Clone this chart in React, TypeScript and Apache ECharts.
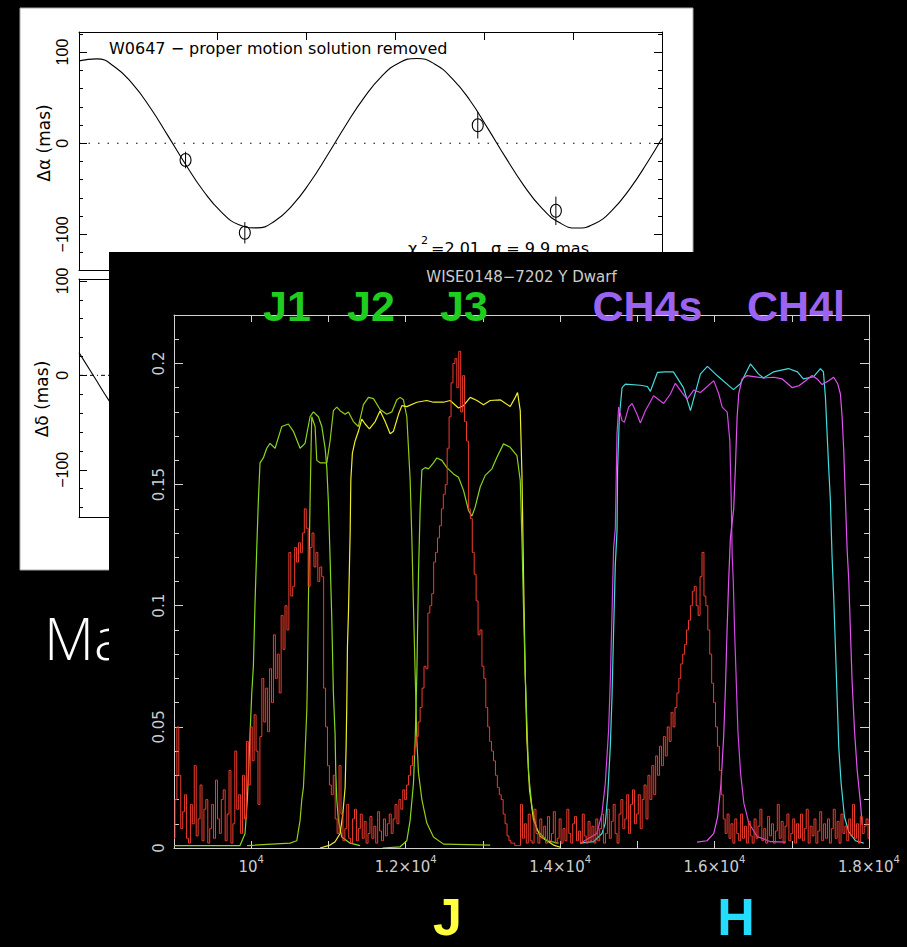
import React, { useEffect, useRef } from 'react';
import * as echarts from 'echarts';

// ---------------- spectrum (WISE0148-7202) ----------------
const spectrumStart = 9000;
const spectrumStep = 25;
const spectrumFlux = [
  0.004, 0.02, 0.05, 0.03, 0.008, 0.015, 0.022, 0.004, 0.002, 0.018, 0.01, 0.034, 0.005, 0.012, 0.026, 0.003, 0.016, 0.02, 0.002, 0.008,
  0.018, 0.004, 0.028, 0.012, 0.006, 0.02, 0.024, 0.003, 0.014, 0.032, 0.002, 0.01, 0.04, 0.016, 0.022, 0.006, 0.03, 0.012, 0.044, 0.026,
  0.05, 0.036, 0.055, 0.04, 0.018, 0.046, 0.07, 0.052, 0.066, 0.048, 0.074, 0.06, 0.088, 0.07, 0.08, 0.064, 0.096, 0.082, 0.1, 0.09,
  0.122, 0.104, 0.108, 0.124, 0.118, 0.126, 0.122, 0.13, 0.14, 0.132, 0.108, 0.124, 0.13, 0.116, 0.122, 0.11, 0.116, 0.112, 0.066, 0.05,
  0.034, 0.026, 0.022, 0.03, 0.012, 0.006, 0.034, 0.014, 0.003, 0.008, 0.018, 0.004, 0.002, 0.012, 0.016, 0.003, 0.008, 0.014, 0.004, 0.011,
  0.002, 0.006, 0.013, 0.004, 0.009, 0.002, 0.015, 0.007, 0.003, 0.012, 0.005, 0.01, 0.014, 0.006, 0.012, 0.018, 0.01, 0.02, 0.016, 0.024,
  0.02, 0.026, 0.03, 0.034, 0.038, 0.042, 0.046, 0.052, 0.058, 0.066, 0.075, 0.074, 0.097, 0.1, 0.105, 0.118, 0.122, 0.128, 0.133, 0.14,
  0.146, 0.15, 0.165, 0.178, 0.192, 0.2, 0.202, 0.19, 0.205, 0.18, 0.195, 0.176, 0.168, 0.14, 0.136, 0.122, 0.113, 0.102, 0.088, 0.09,
  0.075, 0.07, 0.058, 0.05, 0.044, 0.04, 0.036, 0.03, 0.025, 0.022, 0.02, 0.014, 0.01, 0.005, 0.003, 0.002, 0.002, 0.001, 0.001, 0.001,
  0.018, 0.004, 0.01, 0.002, 0.014, 0.003, 0.002, 0.016, 0.006, 0.002, 0.012, 0.004, 0.009, 0.002, 0.013, 0.003, 0.006, 0.015, 0.002, 0.004,
  0.012, 0.002, 0.008, 0.003, 0.016, 0.006, 0.002, 0.01, 0.013, 0.003, 0.007, 0.002, 0.014, 0.005, 0.002, 0.011, 0.003, 0.009, 0.002, 0.012,
  0.003, 0.008, 0.014, 0.002, 0.006, 0.016, 0.004, 0.011, 0.018, 0.006, 0.002, 0.014, 0.02, 0.008, 0.012, 0.022, 0.006, 0.018, 0.024, 0.01,
  0.014, 0.022, 0.008, 0.02, 0.026, 0.012, 0.03, 0.02, 0.034, 0.022, 0.038, 0.03, 0.042, 0.034, 0.046, 0.038, 0.05, 0.044, 0.056, 0.05,
  0.058, 0.064, 0.07, 0.076, 0.08, 0.084, 0.09, 0.094, 0.1, 0.106, 0.108, 0.1, 0.096, 0.112, 0.122, 0.104, 0.1, 0.09, 0.08, 0.068,
  0.06, 0.05, 0.042, 0.032, 0.022, 0.012, 0.006, 0.014, 0.004, 0.01, 0.002, 0.012, 0.006, 0.003, 0.014, 0.004, 0.009, 0.002, 0.011, 0.005,
  0.002, 0.012, 0.004, 0.009, 0.016, 0.003, 0.008, 0.002, 0.013, 0.005, 0.01, 0.002, 0.007, 0.018, 0.004, 0.011, 0.002, 0.009, 0.014, 0.003,
  0.006, 0.012, 0.002, 0.01, 0.004, 0.014, 0.003, 0.008, 0.016, 0.002, 0.009, 0.005, 0.012, 0.002, 0.007, 0.015, 0.003, 0.01, 0.004, 0.012,
  0.002, 0.008, 0.016, 0.004, 0.011, 0.002, 0.014, 0.006, 0.009, 0.003, 0.012, 0.005, 0.018, 0.004, 0.01, 0.002, 0.013, 0.006, 0.009, 0.012,
  0.004,
];

const filterJ1 = [
  [9000, 0.001], [9855, 0.001], [9920, 0.006], [9950, 0.02], [9985, 0.047], [10007, 0.064],
  [10028, 0.075], [10050, 0.102], [10072, 0.124], [10092, 0.143], [10114, 0.159], [10157, 0.161],
  [10201, 0.165], [10244, 0.167], [10309, 0.165], [10396, 0.174], [10481, 0.175], [10546, 0.172],
  [10633, 0.165], [10697, 0.167], [10762, 0.178], [10805, 0.18], [10870, 0.178], [10914, 0.174],
  [10957, 0.165], [10979, 0.157], [10999, 0.143], [11021, 0.12], [11043, 0.095], [11064, 0.064],
  [11086, 0.047], [11095, 0.031], [11108, 0.02], [11129, 0.0115], [11173, 0.0045], [11281, 0.002],
  [11410, 0.001],
];
const filterJ2 = [
  [9946, 0.001], [10503, 0.002], [10590, 0.003], [10633, 0.0115], [10655, 0.02], [10676, 0.025],
  [10697, 0.039], [10720, 0.057], [10727, 0.069], [10740, 0.101], [10762, 0.143], [10775, 0.165],
  [10784, 0.178], [10827, 0.174], [10849, 0.16], [10892, 0.159], [10979, 0.159], [11021, 0.168],
  [11064, 0.1805], [11108, 0.182], [11151, 0.1805], [11216, 0.179], [11259, 0.18], [11323, 0.176],
  [11388, 0.174], [11453, 0.183], [11518, 0.186], [11583, 0.1855], [11669, 0.181], [11756, 0.179],
  [11821, 0.18], [11886, 0.185], [11929, 0.186], [11971, 0.185], [12015, 0.178], [12058, 0.152],
  [12080, 0.128], [12101, 0.1], [12123, 0.072], [12145, 0.0445], [12166, 0.031], [12210, 0.02],
  [12274, 0.0103], [12360, 0.0045], [12490, 0.0016], [13095, 0.0012],
];
const filterJ = [
  [10892, 0], [11021, 0.0012], [11086, 0.0026], [11151, 0.006], [11186, 0.014], [11216, 0.025],
  [11229, 0.042], [11238, 0.06], [11246, 0.083], [11259, 0.097], [11281, 0.13], [11290, 0.152],
  [11310, 0.163], [11345, 0.168], [11388, 0.172], [11432, 0.177], [11475, 0.175], [11531, 0.173],
  [11605, 0.176], [11669, 0.1805], [11734, 0.176], [11799, 0.171], [11842, 0.172], [11907, 0.179],
  [11951, 0.1826], [12015, 0.1822], [12145, 0.184], [12274, 0.1847], [12360, 0.184], [12490, 0.184],
  [12576, 0.1847], [12684, 0.1816], [12749, 0.1826], [12836, 0.186], [12923, 0.1847], [13008, 0.183],
  [13095, 0.1847], [13224, 0.185], [13354, 0.1822], [13419, 0.186], [13449, 0.188], [13484, 0.1805],
  [13506, 0.154], [13526, 0.113], [13548, 0.072], [13570, 0.0445], [13604, 0.024], [13656, 0.0115],
  [13743, 0.0047], [13915, 0.0012], [14002, 0.0003],
];
const filterJ3 = [
  [11700, 0], [11929, 0.0005], [12015, 0.003], [12058, 0.0115], [12101, 0.0267], [12123, 0.0445],
  [12145, 0.072], [12166, 0.113], [12188, 0.1407], [12210, 0.156], [12253, 0.157], [12295, 0.1565],
  [12360, 0.159], [12404, 0.161], [12469, 0.16], [12534, 0.157], [12619, 0.1544], [12684, 0.153],
  [12749, 0.1476], [12814, 0.1393], [12858, 0.137], [12900, 0.1407], [12965, 0.149], [13030, 0.1538],
  [13117, 0.1565], [13182, 0.1613], [13267, 0.1668], [13354, 0.1654], [13441, 0.162], [13484, 0.1517],
  [13506, 0.127], [13526, 0.0995], [13548, 0.072], [13570, 0.0515], [13591, 0.031], [13635, 0.017],
  [13700, 0.0074], [13829, 0.003], [13980, 0.002],
];
const filterH = [
  [14261, 0.002], [14433, 0.0026], [14542, 0.006], [14585, 0.0102], [14615, 0.021], [14650, 0.0418],
  [14672, 0.0624], [14693, 0.09], [14715, 0.117], [14737, 0.131], [14745, 0.157], [14767, 0.178],
  [14802, 0.19], [14845, 0.1915], [15039, 0.191], [15130, 0.1905], [15169, 0.1885], [15260, 0.1963],
  [15363, 0.1965], [15467, 0.1965], [15597, 0.19], [15688, 0.1805], [15817, 0.1957], [15908, 0.1988],
  [16037, 0.1949], [16244, 0.1892], [16335, 0.1916], [16464, 0.1998], [16568, 0.1957], [16633, 0.194],
  [16762, 0.1965], [16956, 0.1979], [17073, 0.1965], [17150, 0.1936], [17280, 0.1945], [17371, 0.1979],
  [17410, 0.1965], [17436, 0.186], [17478, 0.157], [17500, 0.1434], [17522, 0.12], [17543, 0.1036],
  [17565, 0.083], [17587, 0.0624], [17608, 0.0418], [17639, 0.0267], [17682, 0.0129], [17738, 0.0067],
  [17824, 0.003], [17932, 0.002],
];
const filterCH4s = [
  [14261, 0.002], [14477, 0.006], [14542, 0.0143], [14585, 0.0267], [14628, 0.0486], [14650, 0.069],
  [14672, 0.0967], [14693, 0.124], [14715, 0.132], [14737, 0.171], [14758, 0.182], [14802, 0.1764],
  [14832, 0.1757], [14888, 0.182], [14932, 0.1835], [14996, 0.179], [15039, 0.1754], [15104, 0.1805],
  [15211, 0.1867], [15341, 0.1835], [15428, 0.1874], [15492, 0.1918], [15579, 0.188], [15644, 0.1853],
  [15730, 0.189], [15817, 0.188], [15903, 0.1904], [15990, 0.1929], [16055, 0.1874], [16099, 0.182],
  [16164, 0.1799], [16198, 0.168], [16216, 0.1434], [16229, 0.12], [16242, 0.1105], [16259, 0.09],
  [16281, 0.069], [16302, 0.0486], [16337, 0.0308], [16380, 0.0184], [16445, 0.0102], [16554, 0.0047],
  [16727, 0.0026], [16921, 0.0024],
];
const filterCH4l = [
  [15773, 0.0024], [15903, 0.003], [15990, 0.006], [16040, 0.0129], [16084, 0.0267], [16118, 0.0459],
  [16140, 0.065], [16162, 0.09], [16183, 0.1105], [16205, 0.128], [16248, 0.14], [16270, 0.157],
  [16292, 0.1778], [16313, 0.1874], [16357, 0.1936], [16421, 0.195], [16507, 0.1946], [16637, 0.194],
  [16767, 0.1943], [16876, 0.1936], [16941, 0.1918], [17006, 0.19], [17092, 0.1908], [17179, 0.1929],
  [17263, 0.195], [17328, 0.1936], [17393, 0.1913], [17478, 0.1929], [17543, 0.1943], [17595, 0.1916],
  [17630, 0.1874], [17652, 0.1778], [17673, 0.164], [17695, 0.1434], [17717, 0.123], [17738, 0.1105],
  [17759, 0.09], [17781, 0.069], [17812, 0.0486], [17847, 0.032], [17890, 0.0184], [17912, 0.0095],
];

const specXTickValues = [10000, 12000, 14000, 16000, 18000];
const specXTickMantissas = ['', '1.2×', '1.4×', '1.6×', '1.8×'];
const specYTickValues = [0, 0.05, 0.1, 0.15, 0.2];
const specYTickLabels = ['0', '0.05', '0.1', '0.15', '0.2'];

const filterLabels = ['J1', 'J2', 'J3', 'CH4s', 'CH4l'];
const bandLabels = ['J', 'H'];

// ---------------- astrometry (W0647) ----------------
const astroTimeTicks = [0, 100, 200, 300, 400, 500];
const alphaMinorTicks = [-120, -100, -80, -60, -40, -20, 0, 20, 40, 60, 80, 100, 120];
const alphaMajorTicks = [-100, 0, 100];
const deltaMinorTicks = [-140, -120, -100, -80, -60, -40, -20, 0, 20, 40, 60, 80, 100];
const deltaMajorTicks = [-100, 0, 100];

const alphaModel = [
  [-156, 90.3], [-136, 92.5], [-116, 83.9], [-96, 65.3], [-76, 39.2], [-56, 8.4], [-36, -23.3],
  [-16, -52.4], [4, -75.2], [24, -89.3], [44, -92.8], [64, -85.5], [84, -68.1], [104, -42.8],
  [124, -12.3], [144, 19.5], [164, 49], [184, 72.8], [204, 88.1], [224, 93], [244, 87], [264, 70.9],
  [284, 46.9], [304, 16.3], [324, -15.5], [344, -45.6], [364, -70.3], [384, -86.7], [404, -93],
  [424, -88.4], [444, -73.3], [464, -49.7], [484, -20.3], [500, 5.5],
];
// [time, offset, error]
const alphaObs = [
  [-36.1, -18.4, 9.1], [30.6, -98.2, 11.7], [292.7, 19.8, 14.6], [380.6, -74.1, 15.6],
];
const deltaModel = [
  [-156, 24], [-139, -1.5], [-122, -27], [-105, -50], [-88, -70], [-71, -84],
];

const W = 907;
const H = 947;

export default function App() {
  const ref = useRef<HTMLDivElement>(null);

  useEffect(() => {
    document.body.style.margin = '0';
    document.body.style.background = '#000';
    const chart = echarts.init(ref.current as HTMLDivElement, null, { renderer: 'svg', width: W, height: H });

    const black = '#000';
    const frame = '#d2d2d2';
    const labelGrey = '#cdcdcd';
    const hershey = 'DejaVu Sans';

    const minus = (v: number) => (v < 0 ? '\u2212' + Math.abs(v) : String(v));

    const astroX = (gridIndex: number, position: string) => ({
      type: 'value', gridIndex, position, min: -156, max: 500, z: 2,
      axisLine: { show: true, onZero: false, lineStyle: { color: black, width: 1 } },
      axisTick: { show: true, inside: true, length: 8, customValues: astroTimeTicks, lineStyle: { color: black } },
      axisLabel: { show: false }, splitLine: { show: false },
    });
    const astroY = (gridIndex: number, position: string, min: number, max: number, minor: number[], major: number[], labels: boolean) => [
      {
        type: 'value', gridIndex, position, min, max, z: 2,
        axisLine: { show: true, onZero: false, lineStyle: { color: black, width: 1 } },
        axisTick: { show: true, inside: true, length: 4, customValues: minor, lineStyle: { color: black } },
        axisLabel: labels
          ? { show: true, customValues: major, rotate: 90, margin: 9, formatter: minus, color: black, fontFamily: 'Liberation Sans', fontSize: 16 }
          : { show: false },
        splitLine: { show: false },
      },
      {
        type: 'value', gridIndex, position, min, max, z: 2,
        axisLine: { show: false, onZero: false },
        axisTick: { show: true, inside: true, length: 8, customValues: major, lineStyle: { color: black } },
        axisLabel: { show: false }, splitLine: { show: false },
      },
    ];

    const specXFormatter = (v: number) => {
      const i = specXTickValues.indexOf(Math.round(v));
      if (i < 0) return '';
      return '{m|' + specXTickMantissas[i] + '10}{s|4}';
    };
    const specYFormatter = (v: number) => {
      const i = specYTickValues.findIndex((t) => Math.abs(t - v) < 1e-6);
      return i < 0 ? '' : specYTickLabels[i];
    };

    const specX = (position: string, labels: boolean) => ({
      type: 'value', gridIndex: 2, position, min: 9000, max: 18000, interval: 1000, z: 11,
      axisLine: { show: true, onZero: false, lineStyle: { color: frame, width: 1 } },
      axisTick: { show: true, inside: true, length: 7, lineStyle: { color: frame } },
      axisLabel: labels
        ? {
            show: true, margin: 6, formatter: specXFormatter, showMinLabel: true, showMaxLabel: true,
            rich: {
              m: { fontFamily: hershey, fontSize: 15, color: labelGrey, lineHeight: 20, verticalAlign: 'bottom' },
              s: { fontFamily: hershey, fontSize: 10, color: labelGrey, lineHeight: 10, verticalAlign: 'top' },
            },
          }
        : { show: false },
      splitLine: { show: false },
    });
    const specY = (position: string, labels: boolean) => [
      {
        type: 'value', gridIndex: 2, position, min: 0, max: 0.22, interval: 0.01, z: 11,
        axisLine: { show: true, onZero: false, lineStyle: { color: frame, width: 1 } },
        axisTick: { show: true, inside: true, length: 5, lineStyle: { color: frame } },
        axisLabel: labels
          ? { show: true, rotate: 90, margin: 8, formatter: specYFormatter, color: labelGrey, fontFamily: hershey, fontSize: 15, showMaxLabel: false }
          : { show: false },
        splitLine: { show: false },
      },
      {
        type: 'value', gridIndex: 2, position, min: 0, max: 0.22, interval: 0.05, z: 11,
        axisLine: { show: false, onZero: false },
        axisTick: { show: true, inside: true, length: 9, lineStyle: { color: frame } },
        axisLabel: { show: false }, splitLine: { show: false },
      },
    ];

    const txt = (text: string, x: number, y: number, o: any) => ({
      type: 'text', x, y, z: o.z ?? 1, rotation: o.rotation ?? 0, silent: true,
      style: {
        text, fill: o.fill, font: o.font, lineHeight: o.lineHeight,
        textAlign: o.align ?? 'left', textVerticalAlign: o.valign ?? 'middle',
        align: o.align ?? 'left', verticalAlign: o.valign ?? 'middle',
      },
    });

    const filterDefs = [
      { data: filterJ1, color: '#84d820' },
      { data: filterJ2, color: '#94cc14' },
      { data: filterJ, color: '#eeee26' },
      { data: filterJ3, color: '#84d820' },
      { data: filterH, color: '#44dcdc' },
      { data: filterCH4s, color: '#d448e4' },
      { data: filterCH4l, color: '#e254f2' },
    ];

    const spectrumData = spectrumFlux.map((v, i) => [spectrumStart + i * spectrumStep, v]);

    const option: any = {
      animation: false,
      backgroundColor: '#000',
      grid: [
        { left: 79, top: 32, width: 583, height: 238, outerBoundsMode: 'none' },
        { left: 79, top: 279, width: 583, height: 238, outerBoundsMode: 'none' },
        { left: 174, top: 315, width: 695, height: 533, outerBoundsMode: 'none' },
      ],
      xAxis: [
        astroX(0, 'bottom'), astroX(0, 'top'),
        astroX(1, 'bottom'), astroX(1, 'top'),
        specX('bottom', true), specX('top', false),
      ],
      yAxis: [
        ...astroY(0, 'left', -139, 122, alphaMinorTicks, alphaMajorTicks, true),
        ...astroY(0, 'right', -139, 122, alphaMinorTicks, alphaMajorTicks, false),
        ...astroY(1, 'left', -150, 102, deltaMinorTicks, deltaMajorTicks, true),
        ...astroY(1, 'right', -150, 102, deltaMinorTicks, deltaMajorTicks, false),
        ...specY('left', true),
        ...specY('right', false),
      ],
      series: [
        {
          type: 'line', xAxisIndex: 0, yAxisIndex: 0, data: [[-156, 0], [500, 0]], showSymbol: false, z: 3, silent: true,
          lineStyle: { color: black, width: 1, type: [1.5, 8] },
        },
        {
          type: 'line', xAxisIndex: 0, yAxisIndex: 0, data: alphaModel, showSymbol: false, smooth: true, z: 3, silent: true,
          lineStyle: { color: black, width: 1.1 },
        },
        {
          type: 'custom', xAxisIndex: 0, yAxisIndex: 0, data: alphaObs, z: 3, silent: true,
          renderItem: (_p: any, api: any) => {
            const x = api.value(0), y = api.value(1), e = api.value(2);
            const c = api.coord([x, y]);
            const t = api.coord([x, y + e]);
            const b = api.coord([x, y - e]);
            return {
              type: 'group',
              children: [
                { type: 'line', shape: { x1: t[0], y1: t[1], x2: b[0], y2: b[1] }, style: { stroke: black, lineWidth: 1 } },
                { type: 'ellipse', shape: { cx: c[0], cy: c[1], rx: 5.5, ry: 6.5 }, style: { fill: 'none', stroke: black, lineWidth: 1.1 } },
              ],
            };
          },
        },
        {
          type: 'line', xAxisIndex: 2, yAxisIndex: 4, data: [[-156, 0], [500, 0]], showSymbol: false, z: 3, silent: true,
          lineStyle: { color: black, width: 1, type: [4, 3, 1, 3] },
        },
        {
          type: 'line', xAxisIndex: 2, yAxisIndex: 4, data: deltaModel, showSymbol: false, smooth: true, z: 3, silent: true,
          lineStyle: { color: black, width: 1.1 },
        },
        ...filterDefs.map((f) => ({
          type: 'line', xAxisIndex: 4, yAxisIndex: 8, data: f.data, showSymbol: false, z: 12, silent: true,
          lineStyle: { color: f.color, width: 1.2 },
        })),
        {
          type: 'line', xAxisIndex: 4, yAxisIndex: 8, data: spectrumData, showSymbol: false, step: 'middle', z: 13, silent: true,
          lineStyle: { color: '#f03c2c', width: 1 },
        },
      ],
      graphic: [
        { type: 'rect', z: 0, silent: true, shape: { x: 20, y: 8, width: 673, height: 562 }, style: { fill: '#fff', stroke: '#a8a8a8', lineWidth: 1 } },
        txt('W0647 \u2212 proper motion solution removed', 109, 48.5, { fill: black, font: '16px "DejaVu Sans"', z: 1 }),
        txt('\u03c7', 408, 248, { fill: black, font: '16px "DejaVu Sans"', z: 1 }),
        txt('2', 421, 240, { fill: black, font: '11px "DejaVu Sans"', z: 1 }),
        txt('=2.01', 431, 248, { fill: black, font: '16px "DejaVu Sans"', z: 1 }),
        txt('\u03c3 = 9.9 mas', 491, 248, { fill: black, font: '16px "DejaVu Sans"', z: 1 }),
        txt('\u0394\u03b1 (mas)', 44, 143, { fill: black, font: '17px "DejaVu Sans"', align: 'center', rotation: Math.PI / 2, z: 1 }),
        txt('\u0394\u03b4 (mas)', 42, 399, { fill: black, font: '17px "DejaVu Sans"', align: 'center', rotation: Math.PI / 2, z: 1 }),
        txt('Ma', 44, 637, { fill: '#fff', font: '300 58px "Open Sans"', z: 1 }),
        { type: 'rect', z: 10, silent: true, shape: { x: 109, y: 252, width: 798, height: 695 }, style: { fill: '#000' } },
        txt('WISE0148\u22127202 Y Dwarf', 521.5, 277, { fill: labelGrey, font: '15px "DejaVu Sans"', align: 'center', z: 14 }),
        txt(filterLabels[0], 287, 305.5, { fill: '#1fcc1f', font: 'bold 43px "Liberation Sans"', align: 'center', z: 14 }),
        txt(filterLabels[1], 371, 305.5, { fill: '#1fcc1f', font: 'bold 43px "Liberation Sans"', align: 'center', z: 14 }),
        txt(filterLabels[2], 464, 305.5, { fill: '#1fcc1f', font: 'bold 43px "Liberation Sans"', align: 'center', z: 14 }),
        txt(filterLabels[3], 647.5, 305.5, { fill: '#9a64f0', font: 'bold 43px "Liberation Sans"', align: 'center', z: 14 }),
        txt(filterLabels[4], 796, 305.5, { fill: '#9a64f0', font: 'bold 43px "Liberation Sans"', align: 'center', z: 14 }),
        txt(bandLabels[0], 447.5, 917, { fill: '#ffff40', font: 'bold 52px "Liberation Sans"', align: 'center', z: 14 }),
        txt(bandLabels[1], 736, 917, { fill: '#22ddff', font: 'bold 52px "Liberation Sans"', align: 'center', z: 14 }),
      ],
    };

    chart.setOption(option);
    return () => chart.dispose();
  }, []);

  return (
    <div
      ref={ref}
      style={{ position: 'fixed', left: 0, top: 0, width: W, height: H, background: '#000' }}
    />
  );
}
